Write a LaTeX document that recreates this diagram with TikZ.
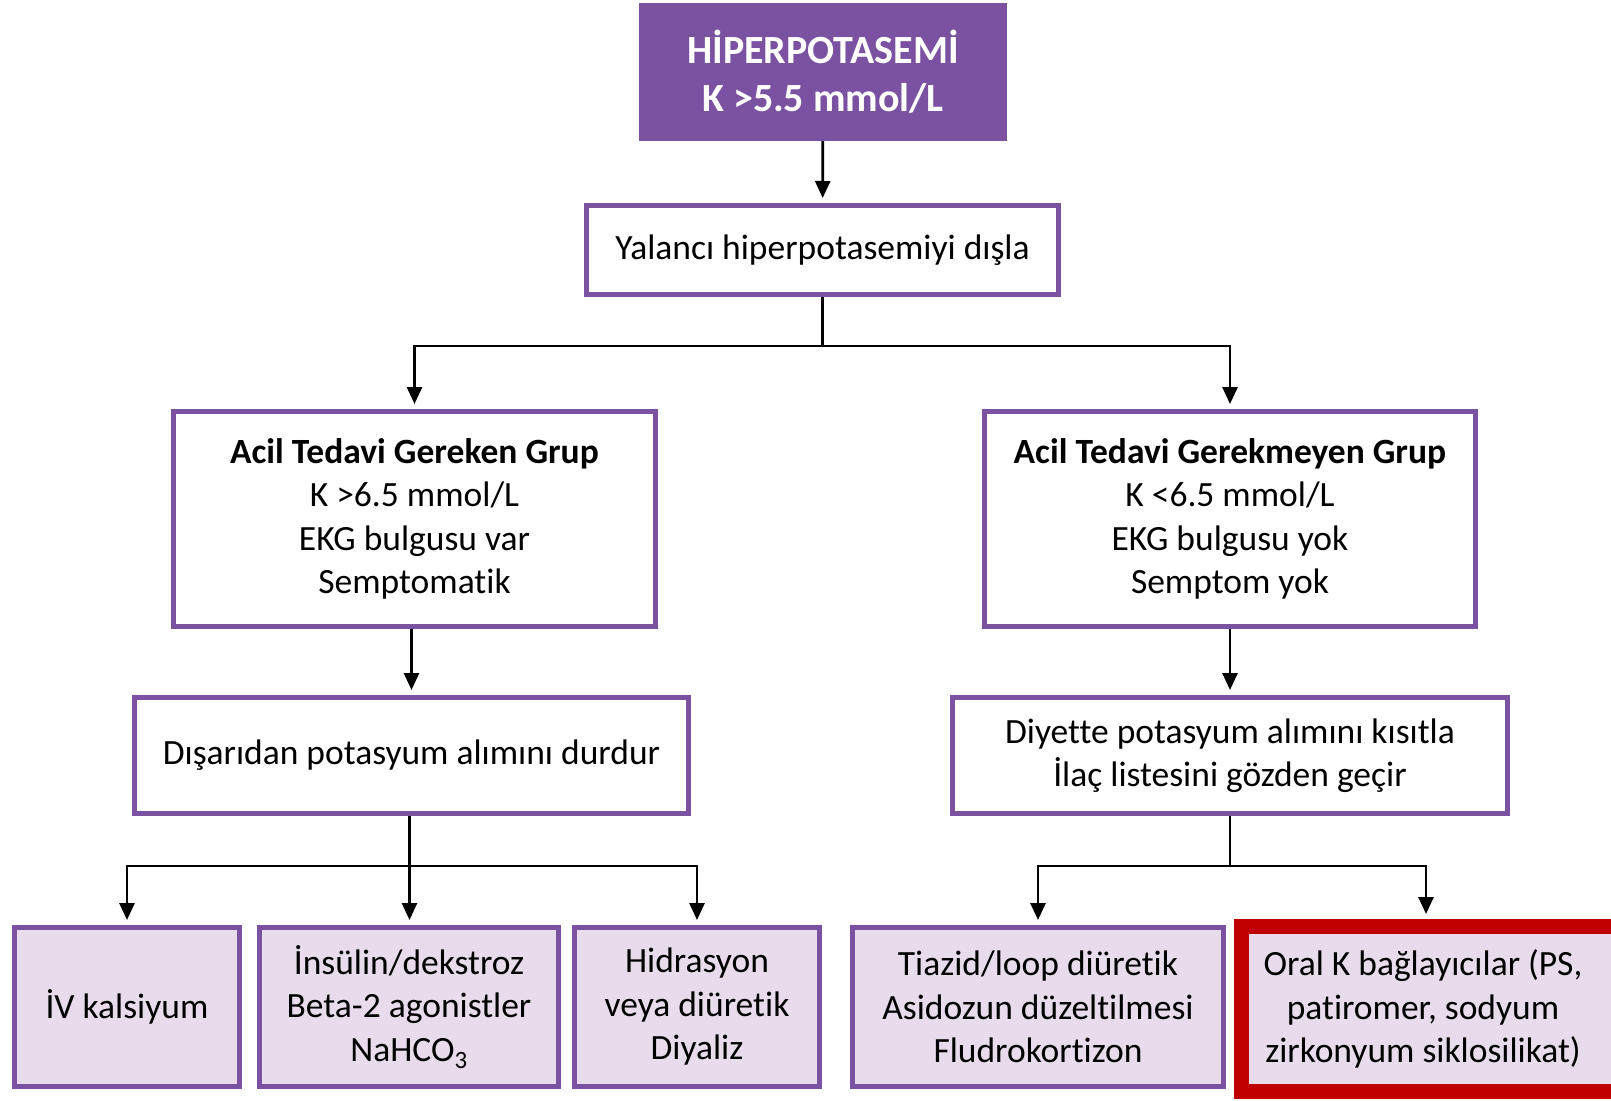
\documentclass[tikz,border=0pt]{standalone}
\usepackage{fontspec}
\setmainfont{Carlito}[Ligatures=NoCommon]
\definecolor{purple1}{RGB}{122, 82, 161}
\definecolor{lilac1}{RGB}{231, 219, 236}
\definecolor{red1}{RGB}{192, 0, 0}
\usetikzlibrary{arrows.meta, positioning, calc}

\begin{document}
\begin{tikzpicture}[x=1pt, y=-1pt,
    font=\fontsize{35.5}{43.5}\selectfont,
    box/.style={draw=purple1, line width=5pt, fill=white, align=center, inner sep=0pt},
    leaf/.style={box, fill=lilac1},
    arr/.style={line width=2.8pt, -{Triangle[length=17pt, width=15pt]}, shorten >=5pt},
    link/.style={line width=2.8pt}]
  \useasboundingbox (0,0) rectangle (1611,1100);

  % top and first step
  \node[box, fill=purple1, text=white, font=\fontsize{40}{48}\selectfont\bfseries,
        minimum width=363pt, minimum height=133pt] (hiper) at (823,72)
        {HİPERPOTASEMİ\\K >5.5 mmol/L};
  \node[box, minimum width=472pt, minimum height=89pt] (yalanci) at (822.5,250)
        {Yalancı hiperpotasemiyi dışla};

  % two groups
  \node[box, minimum width=482pt, minimum height=215pt] (acil) at (414.5,519)
        {\textbf{Acil Tedavi Gereken Grup}\\K >6.5 mmol/L\\EKG bulgusu var\\Semptomatik};
  \node[box, minimum width=491pt, minimum height=215pt] (nonacil) at (1230,519)
        {\textbf{Acil Tedavi Gerekmeyen Grup}\\K <6.5 mmol/L\\EKG bulgusu yok\\Semptom yok};

  \node[box, minimum width=554pt, minimum height=116pt] (durdur) at (411.5,755.5)
        {Dışarıdan potasyum alımını durdur};
  \node[box, minimum width=555pt, minimum height=116pt] (kisitla) at (1230,755.5)
        {Diyette potasyum alımını kısıtla\\İlaç listesini gözden geçir};

  % treatments
  \node[leaf, minimum width=225pt, minimum height=159pt] (kalsiyum) at (127,1007)
        {İV kalsiyum};
  \node[leaf, minimum width=299pt, minimum height=159pt] (insulin) at (409,1007)
        {İnsülin/dekstroz\\Beta-2 agonistler\\NaHCO\textsubscript{3}};
  \node[leaf, minimum width=245pt, minimum height=159pt] (hidrasyon) at (697,1007)
        {Hidrasyon\\veya diüretik\\Diyaliz};
  \node[leaf, minimum width=371pt, minimum height=159pt] (tiazid) at (1038,1007)
        {Tiazid/loop diüretik\\Asidozun düzeltilmesi\\Fludrokortizon};
  \node[leaf, draw=red1, line width=15pt, minimum width=384pt, minimum height=165pt]
        (oral) at (1433,1009)
        {\hspace*{-20pt}Oral K bağlayıcılar (PS,\\\hspace*{-20pt}patiromer, sodyum\\\hspace*{-20pt}zirkonyum siklosilikat)};

  % connectors
  \draw[arr] (hiper) -- (yalanci);
  \coordinate (j1) at ($(yalanci.south)+(0,49)$);
  \draw[link] (yalanci) -- (j1);
  \draw[arr] (j1) -| (acil.north);
  \draw[arr] (j1) -| (nonacil.north);
  \draw[arr] (acil.south -| durdur.north) -- (durdur.north);
  \draw[arr] (nonacil) -- (kisitla);

  \coordinate (j2) at ($(durdur.south)+(-2,50)$);
  \draw[link] (durdur.south -| j2) -- (j2);
  \draw[arr] (j2) -| (kalsiyum.north);
  \draw[arr] (j2) -- (j2 |- insulin.north);
  \draw[arr] (j2) -| (hidrasyon.north);

  \coordinate (j3) at ($(kisitla.south)+(0,50)$);
  \draw[link] (kisitla) -- (j3);
  \draw[arr] (j3) -| (tiazid.north);
  \draw[arr] (j3) -| ([xshift=-7pt]oral.north);
\end{tikzpicture}
\end{document}
